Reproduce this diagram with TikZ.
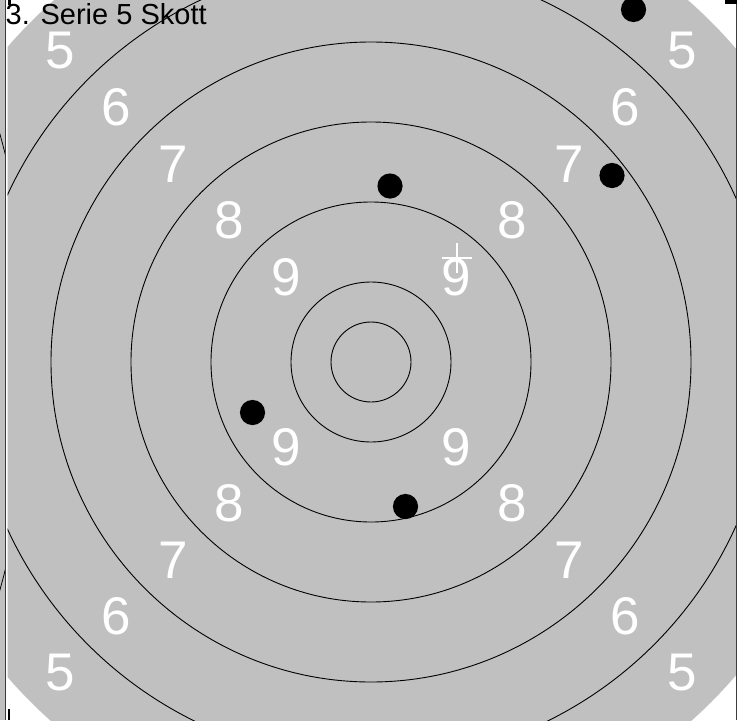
\documentclass[tikz,border=0pt]{standalone}
\usepackage{fontspec}
\setmainfont{Liberation Sans}
\usepackage{tikz}
\usetikzlibrary{positioning}
\definecolor{tgtGray}{HTML}{C0C0C0}
\definecolor{frameGray}{HTML}{3C3C3C}

\begin{document}
\begin{tikzpicture}[x=1pt,y=-1pt,
  ringlab/.style={text=white,inner sep=0pt,font=\fontsize{53}{53}\selectfont},
  shot/.style={fill=black}]
\useasboundingbox (0,0) rectangle (744,720);
\fill[white] (0,0) rectangle (744,720);
% edge of the neighbouring target on the left
\fill[tgtGray] (0,0) rectangle (5,720);
\begin{scope}
  \clip (0,0) rectangle (5,720);
  \draw[line width=0.8pt] (-814,362) circle (845pt);
\end{scope}
% target face with its rings
\coordinate (ctr) at (371,362);
\begin{scope}
  \clip (7.5,0) rectangle (736,720);
  \fill[tgtGray] (ctr) circle (481pt);
  \foreach \r in {40,80,160,240,320,400}{
    \draw[line width=0.9pt] (ctr) circle (\r pt);
  }
\end{scope}
% ring numbers on the diagonals
\foreach \n/\d in {9/85,8/141.5,7/198,6/254.5,5/311}{
  \node[ringlab] (lab\n nw) at (371-\d,362-\d){\n};
  \node[ringlab] (lab\n ne) at (371+\d,362-\d){\n};
  \node[ringlab] (lab\n sw) at (371-\d,362+\d){\n};
  \node[ringlab] (lab\n se) at (371+\d,362+\d){\n};
}
% shots of the series
\foreach \sx/\sy in {633.5/9.5, 612/175.5, 390/186, 252.5/412.5, 405.5/506.5}{
  \fill[shot] (\sx,\sy) circle (12.6pt);
}
% aiming cross
\coordinate (aim) at (457,258);
\draw[white,line width=1.2pt] (aim) ++(-15,0) -- ++(30,0);
\draw[white,line width=1.2pt] (aim) ++(0,-15) -- ++(0,30);
% panel frame
\draw[frameGray,line width=1.3pt] (5.6,0) -- (5.6,720);
\draw[frameGray,line width=1.3pt] (736.6,0) -- (736.6,720);
\fill (725,0) rectangle (737,3.5);
\fill (8,0) rectangle (10.5,5);
\fill (8,709) rectangle (10,720);
% series title
\node[anchor=base west,inner sep=0pt,font=\fontsize{29}{29}\selectfont] (title) at (5.5,24){3. Serie 5 Skott};
\end{tikzpicture}
\end{document}
